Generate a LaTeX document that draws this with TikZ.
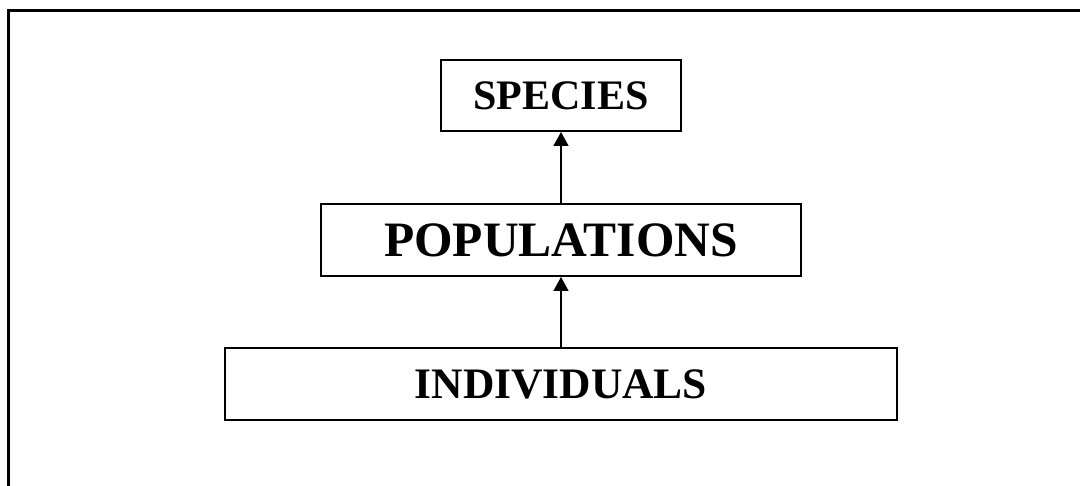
\documentclass[tikz,border=0pt]{standalone}
\usepackage{fontspec}
\setmainfont{Liberation Serif}
\usetikzlibrary{arrows.meta}
\begin{document}
\begin{tikzpicture}[x=1pt,y=1pt,
  levelbox/.style={draw=black, line width=2pt, rectangle, inner sep=0pt, minimum height=72pt, font=\bfseries},
  uparrow/.style={line width=1.5pt, -{Triangle[width=15pt,length=14pt]}}]
\useasboundingbox (0,0) rectangle (1080,-486);
\fill[white] (0,0) rectangle (1080,-486);
\draw[line width=3pt] (8,-490) -- (8,-11) -- (1085,-11);
\node[levelbox, minimum width=240pt, minimum height=71pt, font=\bfseries\fontsize{42}{42}\selectfont] (species) at (561,-95.5) {SPECIES};
\node[levelbox, minimum width=480pt, font=\bfseries\fontsize{49.5}{49.5}\selectfont] (populations) at (561,-240) {POPULATIONS};
\node[levelbox, minimum width=672pt, font=\bfseries\fontsize{43.5}{43.5}\selectfont] (individuals) at (561,-384) {INDIVIDUALS};
\draw[uparrow] (populations.north) -- (species.south);
\draw[uparrow] (individuals.north) -- (populations.south);
\end{tikzpicture}
\end{document}
